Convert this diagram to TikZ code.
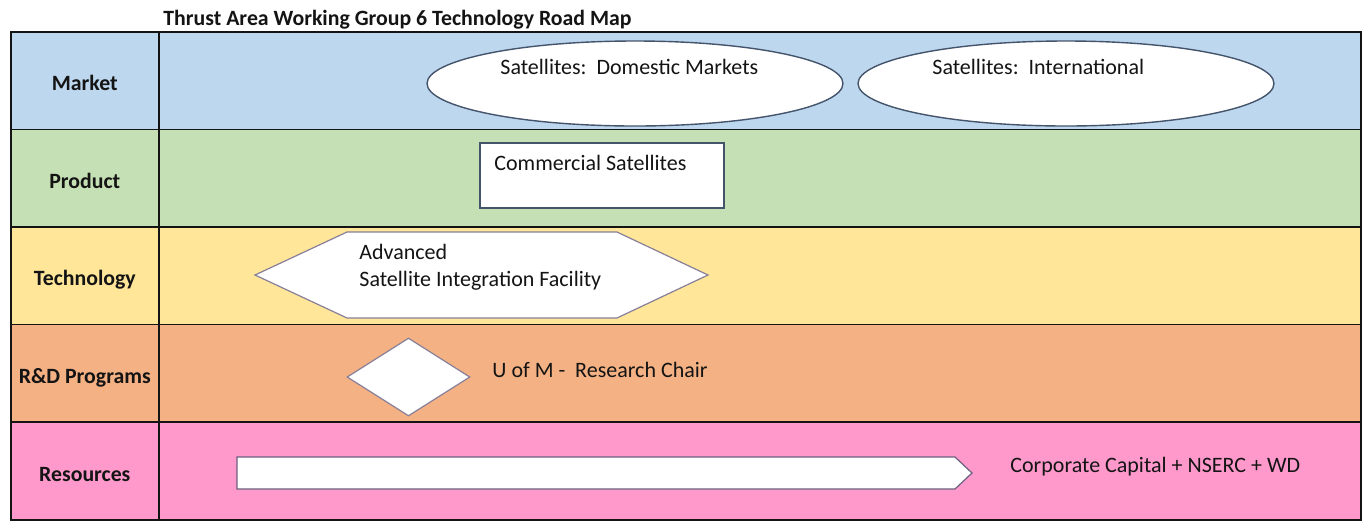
\documentclass[tikz,border=0pt]{standalone}
\usepackage{fontspec}
\setmainfont{Carlito}
\usepackage{tikz}
\usetikzlibrary{positioning,shapes.geometric}
\definecolor{market1}{HTML}{BDD7EE}
\definecolor{product1}{HTML}{C5E0B4}
\definecolor{tech1}{HTML}{FFE699}
\definecolor{rnd1}{HTML}{F4B183}
\definecolor{res1}{HTML}{FF99CC}
\definecolor{edge1}{HTML}{44546A}
\definecolor{edge2}{HTML}{6A5F7E}
\definecolor{ink1}{HTML}{141414}

\begin{document}
\begin{tikzpicture}[
    x=0.5pt, y=-0.5pt,
    lab/.style={draw=ink1, line width=0.8pt, anchor=north west,
                minimum width=74pt, minimum height=48.8pt, inner sep=0pt,
                text height=10pt, text depth=0pt,
                font=\bfseries\fontsize{10.9}{13}\selectfont, text=ink1},
    band/.style={draw=ink1, line width=0.8pt, minimum width=601pt,
                 minimum height=48.8pt, inner sep=0pt},
    txt/.style={anchor=base west, inner sep=0pt, text=ink1,
                font=\fontsize{11}{13}\selectfont},
    oval/.style={ellipse, draw=edge1, line width=0.7pt, fill=white,
                 minimum width=208pt, minimum height=42.5pt, inner sep=0pt},
    whitebox/.style={draw=edge1, line width=0.6pt, fill=white},
]
\useasboundingbox (0,0) rectangle (1366,521);

% title
\node[txt, font=\bfseries\fontsize{10.9}{13}\selectfont] (title) at (163,25.5)
    {Thrust Area Working Group 6 Technology Road Map};

% rows
\node[lab, fill=market1] (market) at (10,31) {Market};
\node[band, fill=market1, right=-\pgflinewidth of market] (marketrow) {};
\node[lab, fill=product1, below=-\pgflinewidth of market.south west,
      anchor=north west] (product) {Product};
\node[band, fill=product1, right=-\pgflinewidth of product] (productrow) {};
\node[lab, fill=tech1, below=-\pgflinewidth of product.south west,
      anchor=north west] (tech) {Technology};
\node[band, fill=tech1, right=-\pgflinewidth of tech] (techrow) {};
\node[lab, fill=rnd1, below=-\pgflinewidth of tech.south west,
      anchor=north west] (rnd) {R\&D Programs};
\node[band, fill=rnd1, right=-\pgflinewidth of rnd] (rndrow) {};
\node[lab, fill=res1, below=-\pgflinewidth of rnd.south west,
      anchor=north west] (res) {Resources};
\node[band, fill=res1, right=-\pgflinewidth of res] (resrow) {};

% market
\node[oval] (domestic) at (635,83.5) {};
\node[oval] (intl) at (1066,83.5) {};
\node[txt] (domtext) at (500,74) {Satellites:\ \ Domestic Markets};
\node[txt] (intltext) at (932,74) {Satellites:\ \ International};

% product
\draw[whitebox] (480,143) rectangle (724,208);
\node[txt] (commsat) at (494,170) {Commercial Satellites};

% technology
\draw[whitebox, draw=edge2!80] (255,275) -- (347,232) -- (617,232)
    -- (708,275) -- (617,318) -- (347,318) -- cycle;
\node[txt] (adv1) at (359,259) {Advanced};
\node[txt] (adv2) at (359,286) {Satellite Integration Facility};

% r&d
\node[diamond, draw=edge2!80, line width=0.6pt, fill=white, inner sep=0pt,
      minimum width=61.5pt, minimum height=39pt] (chair) at (408.5,377) {};
\node[txt] (chairtext) at (492,377) {U of M -\ \ Research Chair};

% resources
\draw[whitebox, draw=edge2] (237,457) -- (955,457) -- (972,473)
    -- (955,489) -- (237,489) -- cycle;
\node[txt] (fund) at (1010,472) {Corporate Capital + NSERC + WD};
\end{tikzpicture}
\end{document}
